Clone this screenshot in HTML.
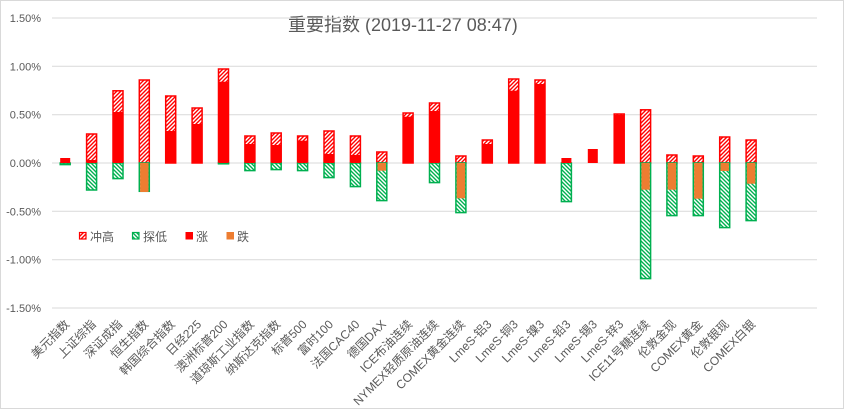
<!DOCTYPE html>
<html>
<head>
<meta charset="utf-8">
<style>
html,body{margin:0;padding:0;background:#fff;}
body{width:845px;height:410px;overflow:hidden;}
svg{display:block;}
text{font-family:"Liberation Sans","Noto Sans CJK SC",sans-serif;fill:#595959;}
</style>
</head>
<body>
<svg width="845" height="410" viewBox="0 0 845 410" xmlns="http://www.w3.org/2000/svg">
<defs>
<pattern id="rh" patternUnits="userSpaceOnUse" width="4" height="4">
<rect width="4" height="4" fill="#fff"/>
<path d="M-1,1 L1,-1 M0,4 L4,0 M3,5 L5,3" stroke="#ff0000" stroke-width="1.4"/>
</pattern>
<pattern id="gh" patternUnits="userSpaceOnUse" width="4" height="4">
<rect width="4" height="4" fill="#fff"/>
<path d="M-1,3 L1,5 M0,0 L4,4 M3,-1 L5,1" stroke="#00b050" stroke-width="1.4"/>
</pattern>
</defs>
<rect x="0.5" y="0.5" width="843" height="408" fill="#fff" stroke="#d9d9d9" stroke-width="1"/>

<text x="288" y="31" font-size="18">重要指数 (2019-11-27 08:47)</text>

<g stroke="#d9d9d9" stroke-width="1">
<line x1="52" y1="18" x2="817" y2="18"/>
<line x1="52" y1="66.3" x2="817" y2="66.3"/>
<line x1="52" y1="114.7" x2="817" y2="114.7"/>
<line x1="52" y1="163" x2="817" y2="163"/>
<line x1="52" y1="211.3" x2="817" y2="211.3"/>
<line x1="52" y1="259.7" x2="817" y2="259.7"/>
<line x1="52" y1="308" x2="817" y2="308"/>
</g>

<g font-size="11" text-anchor="end">
<text x="41" y="22">1.50%</text>
<text x="41" y="70.3">1.00%</text>
<text x="41" y="118.7">0.50%</text>
<text x="41" y="167">0.00%</text>
<text x="41" y="215.3">-0.50%</text>
<text x="41" y="263.7">-1.00%</text>
<text x="41" y="312">-1.50%</text>
</g>

<!-- red hatched (冲高) bars -->
<g fill="url(#rh)" stroke="#ff0000" stroke-width="1.5">
<rect x="86.6" y="134" width="10" height="29"/>
<rect x="113" y="90.8" width="10" height="72.2"/>
<rect x="139.3" y="80" width="10" height="83"/>
<rect x="165.7" y="96" width="10" height="67"/>
<rect x="192.1" y="108" width="10" height="55"/>
<rect x="218.5" y="69" width="10" height="94"/>
<rect x="244.9" y="136" width="10" height="27"/>
<rect x="271.2" y="133" width="10" height="30"/>
<rect x="297.6" y="136" width="10" height="27"/>
<rect x="324" y="131" width="10" height="32"/>
<rect x="350.4" y="136" width="10" height="27"/>
<rect x="376.8" y="152" width="10" height="11"/>
<rect x="403.1" y="113" width="10" height="50"/>
<rect x="429.5" y="103" width="10" height="60"/>
<rect x="455.9" y="156" width="10" height="7"/>
<rect x="482.3" y="140" width="10" height="23"/>
<rect x="508.7" y="79" width="10" height="84"/>
<rect x="535" y="80" width="10" height="83"/>
<rect x="614.2" y="114" width="10" height="49"/>
<rect x="640.6" y="109.8" width="10" height="53.2"/>
<rect x="666.9" y="155" width="10" height="8"/>
<rect x="693.3" y="156" width="10" height="7"/>
<rect x="719.7" y="137" width="10" height="26"/>
<rect x="746.1" y="140" width="10" height="23"/>
</g>

<!-- green hatched (探低) bars -->
<g fill="url(#gh)" stroke="#00b050" stroke-width="1.5">
<rect x="60.2" y="163" width="10" height="1.6"/>
<rect x="86.6" y="163" width="10" height="27"/>
<rect x="113" y="163" width="10" height="15.6"/>
<rect x="139.3" y="163" width="10" height="28.3"/>
<rect x="218.5" y="163" width="10" height="0.8"/>
<rect x="244.9" y="163" width="10" height="7.6"/>
<rect x="271.2" y="163" width="10" height="6.6"/>
<rect x="297.6" y="163" width="10" height="7.6"/>
<rect x="324" y="163" width="10" height="14.6"/>
<rect x="350.4" y="163" width="10" height="23.6"/>
<rect x="376.8" y="163" width="10" height="37.6"/>
<rect x="429.5" y="163" width="10" height="19.6"/>
<rect x="455.9" y="163" width="10" height="49.6"/>
<rect x="561.4" y="163" width="10" height="38.6"/>
<rect x="640.6" y="163" width="10" height="115.6"/>
<rect x="666.9" y="163" width="10" height="52.6"/>
<rect x="693.3" y="163" width="10" height="52.6"/>
<rect x="719.7" y="163" width="10" height="64.6"/>
<rect x="746.1" y="163" width="10" height="57.6"/>
</g>

<!-- red solid (涨) -->
<g fill="#ff0000">
<rect x="60.2" y="158" width="10" height="5"/>
<rect x="86.6" y="160" width="10" height="3"/>
<rect x="113" y="112" width="10" height="51"/>
<rect x="165.7" y="131" width="10" height="32"/>
<rect x="192.1" y="124" width="10" height="39"/>
<rect x="218.5" y="81.7" width="10" height="81.3"/>
<rect x="244.9" y="144" width="10" height="19"/>
<rect x="271.2" y="145" width="10" height="18"/>
<rect x="297.6" y="140.7" width="10" height="22.3"/>
<rect x="324" y="154" width="10" height="9"/>
<rect x="350.4" y="155" width="10" height="8"/>
<rect x="403.1" y="116.7" width="10" height="46.3"/>
<rect x="429.5" y="111" width="10" height="52"/>
<rect x="482.3" y="144" width="10" height="19"/>
<rect x="508.7" y="90.7" width="10" height="72.3"/>
<rect x="535" y="84" width="10" height="79"/>
<rect x="561.4" y="158" width="10" height="5"/>
<rect x="587.8" y="149" width="10" height="14"/>
<rect x="614.2" y="114.7" width="10" height="48.3"/>
</g>

<!-- orange (跌) -->
<g fill="#ed7d31">
<rect x="140.1" y="163" width="8.4" height="29"/>
<rect x="377.6" y="163" width="8.4" height="7.7"/>
<rect x="456.7" y="163" width="8.4" height="35.3"/>
<rect x="641.4" y="163" width="8.4" height="26.7"/>
<rect x="667.7" y="163" width="8.4" height="26.7"/>
<rect x="694.1" y="163" width="8.4" height="35.7"/>
<rect x="720.5" y="163" width="8.4" height="8"/>
<rect x="746.9" y="163" width="8.4" height="20.7"/>
</g>

<!-- legend -->
<g font-size="12">
<rect x="79.5" y="232.5" width="6.5" height="6.5" fill="url(#rh)" stroke="#ff0000" stroke-width="1.2"/>
<text x="90" y="241">冲高</text>
<rect x="132.5" y="232.5" width="6.5" height="6.5" fill="url(#gh)" stroke="#00b050" stroke-width="1.2"/>
<text x="143" y="241">探低</text>
<rect x="185.5" y="232" width="7.5" height="7.5" fill="#ff0000"/>
<text x="196" y="241">涨</text>
<rect x="226.5" y="232" width="7.5" height="7.5" fill="#ed7d31"/>
<text x="237" y="241">跌</text>
</g>

<!-- x labels -->
<g font-size="12" text-anchor="end">
<text transform="translate(70.2,325) rotate(-45)">美元指数</text>
<text transform="translate(96.6,325) rotate(-45)">上证综指</text>
<text transform="translate(123,325) rotate(-45)">深证成指</text>
<text transform="translate(149.3,325) rotate(-45)">恒生指数</text>
<text transform="translate(175.7,325) rotate(-45)">韩国综合指数</text>
<text transform="translate(202.1,325) rotate(-45)">日经225</text>
<text transform="translate(228.5,325) rotate(-45)">澳洲标普200</text>
<text transform="translate(254.9,325) rotate(-45)">道琼斯工业指数</text>
<text transform="translate(281.2,325) rotate(-45)">纳斯达克指数</text>
<text transform="translate(307.6,325) rotate(-45)">标普500</text>
<text transform="translate(334,325) rotate(-45)">富时100</text>
<text transform="translate(360.4,325) rotate(-45)">法国CAC40</text>
<text transform="translate(386.8,325) rotate(-45)">德国DAX</text>
<text transform="translate(413.1,325) rotate(-45)">ICE布油连续</text>
<text transform="translate(439.5,325) rotate(-45)">NYMEX轻质原油连续</text>
<text transform="translate(465.9,325) rotate(-45)">COMEX黄金连续</text>
<text transform="translate(492.3,325) rotate(-45)">LmeS-铝3</text>
<text transform="translate(518.7,325) rotate(-45)">LmeS-铜3</text>
<text transform="translate(545,325) rotate(-45)">LmeS-镍3</text>
<text transform="translate(571.4,325) rotate(-45)">LmeS-铅3</text>
<text transform="translate(597.8,325) rotate(-45)">LmeS-锡3</text>
<text transform="translate(624.2,325) rotate(-45)">LmeS-锌3</text>
<text transform="translate(650.6,325) rotate(-45)">ICE11号糖连续</text>
<text transform="translate(676.9,325) rotate(-45)">伦敦金现</text>
<text transform="translate(703.3,325) rotate(-45)">COMEX黄金</text>
<text transform="translate(729.7,325) rotate(-45)">伦敦银现</text>
<text transform="translate(756.1,325) rotate(-45)">COMEX白银</text>
</g>
</svg>
</body>
</html>
